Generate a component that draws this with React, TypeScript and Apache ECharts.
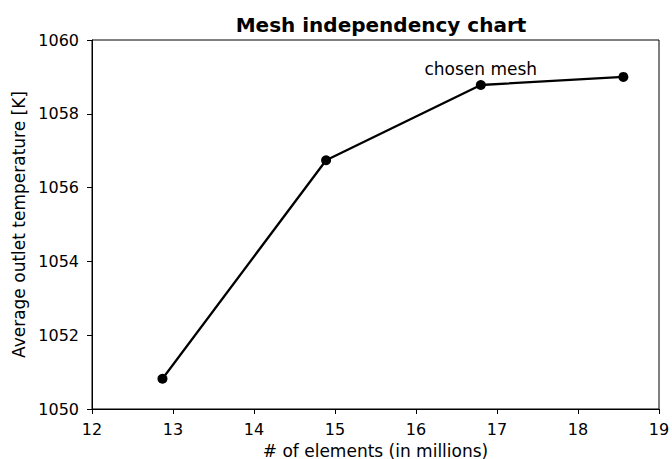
import React, { useEffect, useRef } from "react";
import * as echarts from "echarts";

const elements = [12.87, 14.89, 16.8, 18.56];
const temperature = [1050.82, 1056.74, 1058.78, 1059.0];
const annotations = ["", "", "chosen mesh", ""];
const titleText = "Mesh independency chart";
const xLabel = "# of elements (in millions)";
const yLabel = "Average outlet temperature [K]";

export default function App() {
  const ref = useRef<HTMLDivElement>(null);
  useEffect(() => {
    const chart = echarts.init(ref.current!, null, { renderer: "svg" });
    const font = "DejaVu Sans";
    chart.setOption({
      animation: false,
      backgroundColor: "#ffffff",
      textStyle: { fontFamily: font },
      title: {
        text: titleText,
        left: 376,
        top: 10,
        textAlign: "center",
        textStyle: { fontFamily: font, fontSize: 20, fontWeight: "bold", color: "#000" },
      },
      grid: {
        left: 92,
        right: 13,
        top: 40,
        bottom: 50,
        containLabel: false,
        outerBoundsMode: "none",
      },
      xAxis: {
        type: "value",
        min: 12,
        max: 19,
        interval: 1,
        name: xLabel,
        nameLocation: "middle",
        nameGap: 33,
        nameTextStyle: { fontFamily: font, fontSize: 17, lineHeight: 17, color: "#000" },
        axisLine: { show: true, onZero: false, lineStyle: { color: "#000", width: 1 } },
        axisTick: { show: true, inside: false, length: 5, lineStyle: { color: "#000" } },
        axisLabel: { fontFamily: font, fontSize: 16, color: "#000", margin: 12 },
        splitLine: { show: false },
      },
      yAxis: {
        type: "value",
        min: 1050,
        max: 1060,
        interval: 2,
        name: yLabel,
        nameLocation: "middle",
        nameGap: 64,
        nameTextStyle: { fontFamily: font, fontSize: 17, color: "#000" },
        axisLine: { show: true, onZero: false, lineStyle: { color: "#000", width: 1 } },
        axisTick: { show: true, inside: false, length: 5, lineStyle: { color: "#000" } },
        axisLabel: {
          fontFamily: font,
          fontSize: 16,
          color: "#000",
          margin: 13,
          formatter: (v: number) => String(v),
        },
        splitLine: { show: false },
      },
      graphic: [
        {
          type: "rect",
          shape: { x: 92, y: 40, width: 567, height: 369 },
          style: { fill: "none", stroke: "#000", lineWidth: 1 },
          silent: true,
          z: 10,
        },
      ],
      series: [
        {
          type: "line",
          data: elements.map((x, i) => ({
            value: [x, temperature[i]],
            label: annotations[i]
              ? {
                  show: true,
                  formatter: annotations[i],
                  position: "top",
                  distance: 3,
                  fontFamily: font,
                  fontSize: 17,
                  color: "#000",
                }
              : { show: false },
          })),
          symbol: "circle",
          symbolSize: 10,
          lineStyle: { color: "#000", width: 2.3 },
          itemStyle: { color: "#000" },
        },
      ],
    });
    return () => chart.dispose();
  }, []);
  return <div ref={ref} style={{ width: 672, height: 459, position: "absolute", left: 0, top: 0 }} />;
}
